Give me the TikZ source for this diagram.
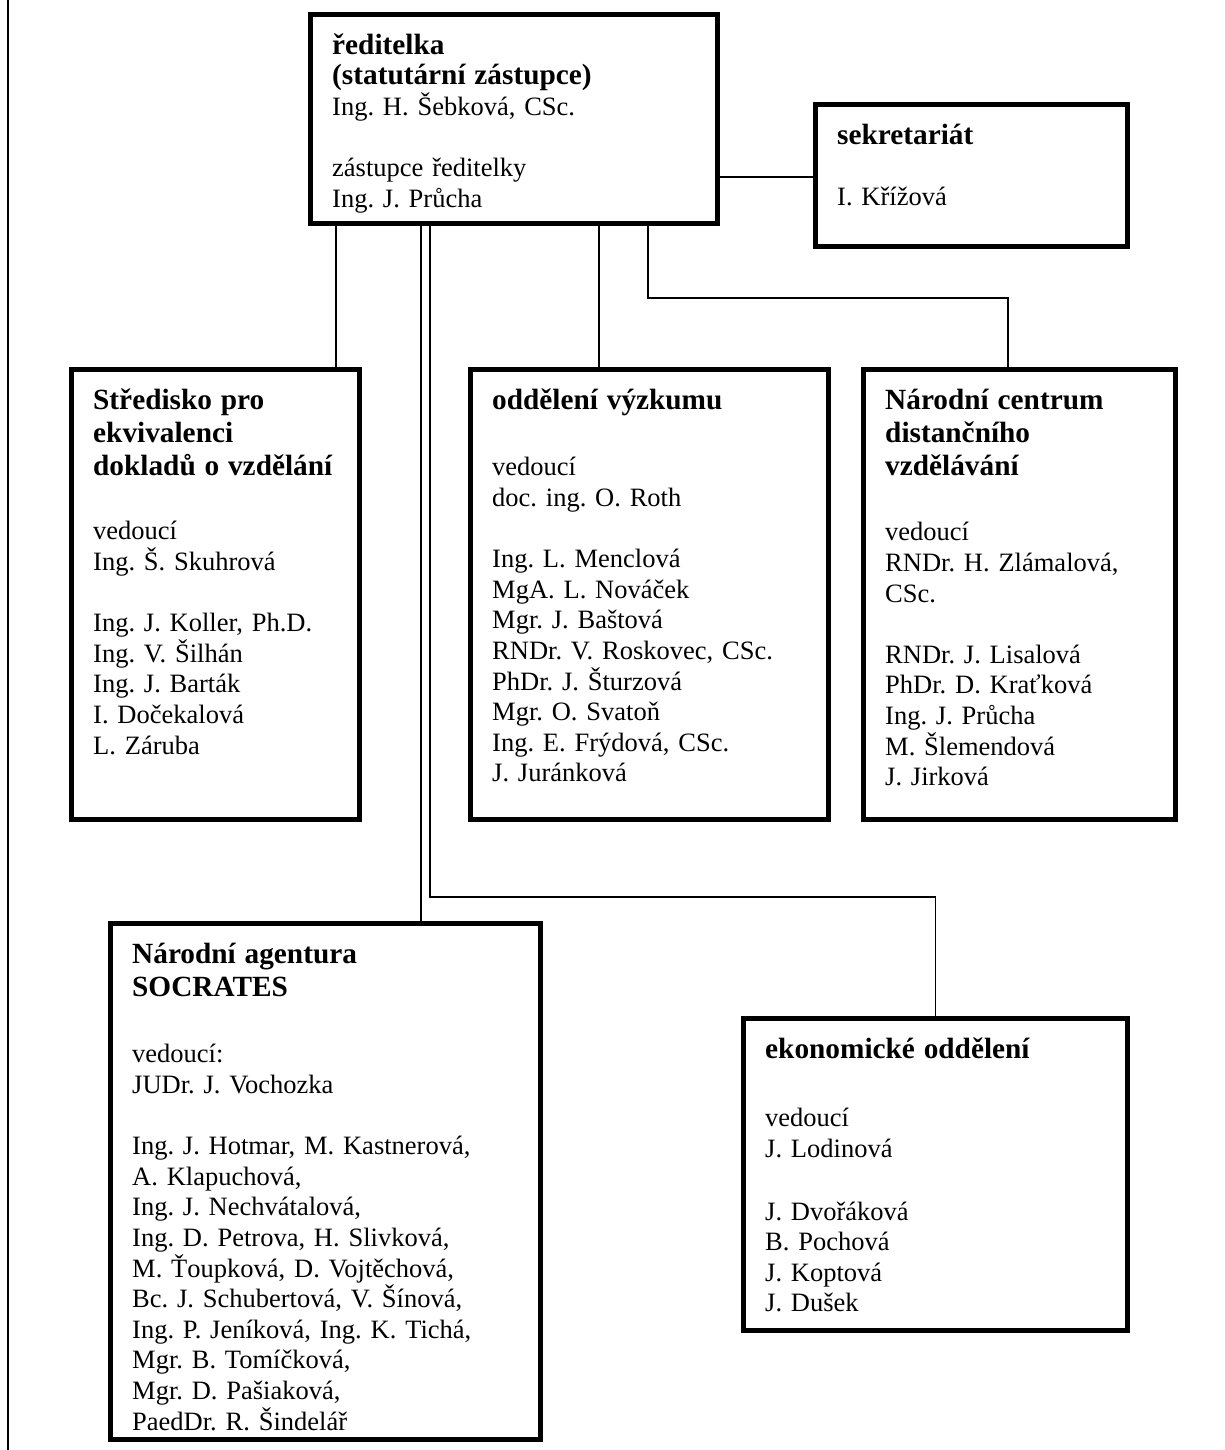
\documentclass[tikz,border=0pt]{standalone}
\usepackage{fontspec}
\setmainfont{Liberation Serif}
\frenchspacing
\newcommand{\nadpis}[1]{{\fontsize{29.3}{33}\selectfont\bfseries #1}}
\newcommand{\telo}{\fontsize{26.5}{30.6}\selectfont\lineskiplimit=-100pt\frenchspacing}
\newcommand{\prvni}{\rule{0pt}{24pt}}

\begin{document}
\begin{tikzpicture}[x=1pt,y=-1pt,
  box/.style={draw,line width=5pt,inner sep=0pt,anchor=north west},
  txt/.style={anchor=north west,inner sep=0pt,align=left,font=\telo},
  link/.style={line width=1.5pt}]
  \useasboundingbox (0,0) rectangle (1225,1450);
  \draw[line width=2pt] (7.5,0) -- (7.5,1450);
  % ramecky
  \node[box,minimum width=407pt,minimum height=209pt] (dir) at (308,12) {};
  \node[box,minimum width=312pt,minimum height=142pt] (sek) at (813,102) {};
  \node[box,minimum width=288pt,minimum height=450pt] (stred) at (69,367) {};
  \node[box,minimum width=358pt,minimum height=450pt] (vyzk) at (468,367) {};
  \node[box,minimum width=312pt,minimum height=450pt] (ncdv) at (861,367) {};
  \node[box,minimum width=430pt,minimum height=516pt] (nas) at (108,921) {};
  \node[box,minimum width=384pt,minimum height=312pt] (eko) at (741,1016) {};
  % texty
  \node[txt,text width=370pt] (dirT) at ([xshift=24pt,yshift=-18pt]dir.north west)
    {\prvni\nadpis{ředitelka}\\\nadpis{(statutární zástupce)}\\Ing. H. Šebková, CSc.\\[30.6pt]zástupce ředitelky\\Ing. J. Průcha};
  \node[txt,text width=275pt] (sekT) at ([xshift=24pt,yshift=-18pt]sek.north west)
    {\prvni\nadpis{sekretariát}\\[30.6pt]I. Křížová};
  \node[txt,text width=253pt] (stredT) at ([xshift=24pt,yshift=-18pt]stred.north west)
    {\prvni\nadpis{Středisko pro}\\[2.4pt]\nadpis{ekvivalenci}\\[2.4pt]\nadpis{dokladů o vzdělání}\\[34pt]vedoucí\\Ing. Š. Skuhrová\\[30.6pt]Ing. J. Koller, Ph.D.\\Ing. V. Šilhán\\Ing. J. Barták\\I. Dočekalová\\L. Záruba};
  \node[txt,text width=320pt] (vyzkT) at ([xshift=24pt,yshift=-18pt]vyzk.north west)
    {\prvni\nadpis{oddělení výzkumu}\\[36pt]vedoucí\\doc. ing. O. Roth\\[30.6pt]Ing. L. Menclová\\MgA. L. Nováček\\Mgr. J. Baštová\\RNDr. V. Roskovec, CSc.\\PhDr. J. Šturzová\\Mgr. O. Svatoň\\Ing. E. Frýdová, CSc.\\J. Juránková};
  \node[txt,text width=280pt] (ncdvT) at ([xshift=24pt,yshift=-18pt]ncdv.north west)
    {\prvni\nadpis{Národní centrum}\\[2.4pt]\nadpis{distančního}\\[2.4pt]\nadpis{vzdělávání}\\[35pt]vedoucí\\RNDr. H. Zlámalová,\\CSc.\\[30.6pt]RNDr. J. Lisalová\\PhDr. D. Kraťková\\Ing. J. Průcha\\M. Šlemendová\\J. Jirková};
  \node[txt,text width=395pt] (nasT) at ([xshift=24pt,yshift=-18pt]nas.north west)
    {\prvni\nadpis{Národní agentura}\\[2.4pt]\nadpis{SOCRATES}\\[36pt]vedoucí:\\JUDr. J. Vochozka\\[30.6pt]Ing. J. Hotmar, M. Kastnerová,\\A. Klapuchová,\\Ing. J. Nechvátalová,\\Ing. D. Petrova, H. Slivková,\\M. Ťoupková, D. Vojtěchová,\\Bc. J. Schubertová, V. Šínová,\\Ing. P. Jeníková, Ing. K. Tichá,\\Mgr. B. Tomíčková,\\Mgr. D. Pašiaková,\\PaedDr. R. Šindelář};
  \node[txt,text width=345pt] (ekoT) at ([xshift=24pt,yshift=-18pt]eko.north west)
    {\prvni\nadpis{ekonomické oddělení}\\[38pt]vedoucí\\J. Lodinová\\[32pt]J. Dvořáková\\B. Pochová\\J. Koptová\\J. Dušek};
  % spojnice
  \coordinate (kStred) at (336,0);
  \coordinate (kNas) at (421,0);
  \coordinate (kEko) at (430,0);
  \coordinate (kVyzk) at (599,0);
  \coordinate (kNcdv) at (648,0);
  \coordinate (kNcdvB) at (1008,0);
  \coordinate (ohybS) at (0,177);
  \coordinate (ohybA) at (0,298);
  \coordinate (ohybB) at (0,897);
  \draw[link] (dir.east |- ohybS) -- (sek.west |- ohybS);
  \draw[link] (dir.south -| kStred) -- (stred.north -| kStred);
  \draw[link] (dir.south -| kNas) -- (nas.north -| kNas);
  \draw[link] (dir.south -| kEko) |- (ohybB -| eko.north) -- (eko.north);
  \draw[link] (dir.south -| kVyzk) -- (vyzk.north -| kVyzk);
  \draw[link] (dir.south -| kNcdv) |- (ohybA -| kNcdvB) -- (ncdv.north -| kNcdvB);
\end{tikzpicture}
\end{document}
